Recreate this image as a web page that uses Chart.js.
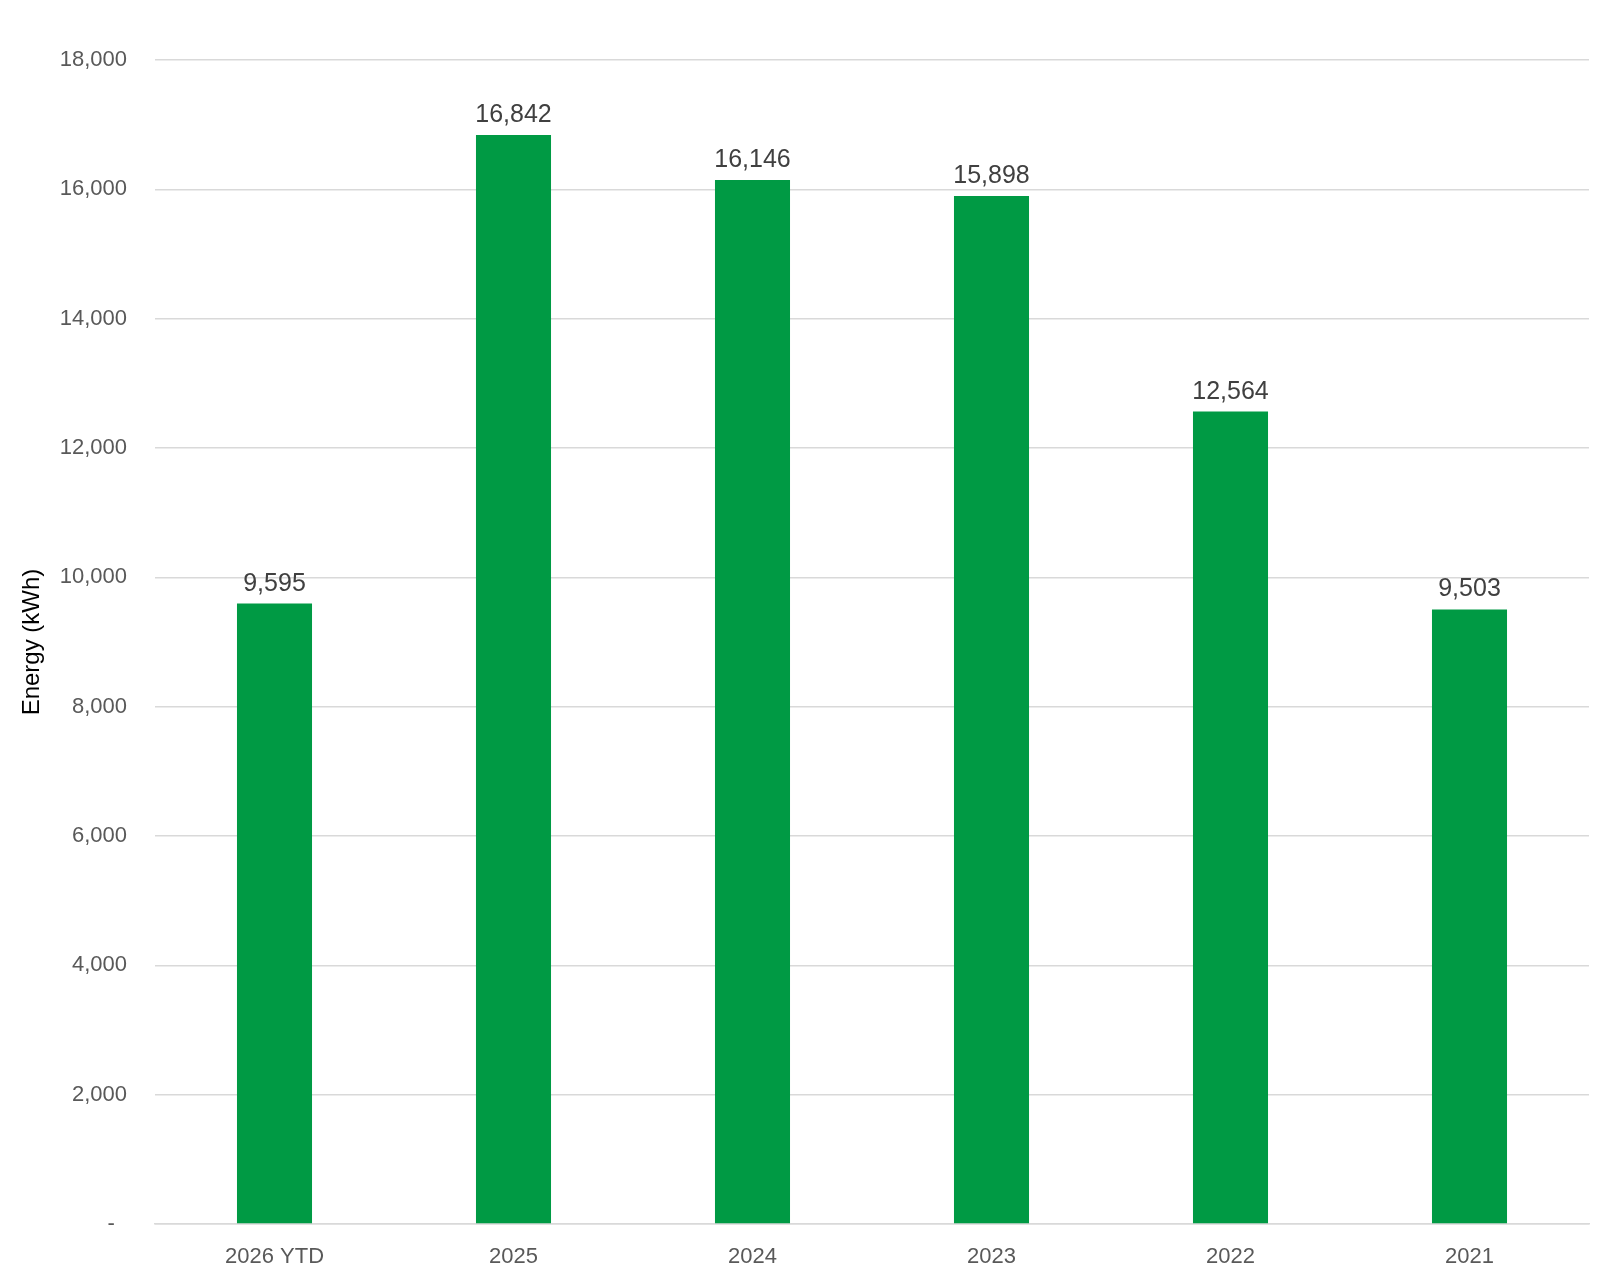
<!DOCTYPE html>
<html>
<head>
<meta charset="utf-8">
<script src="https://cdn.jsdelivr.net/npm/chart.js@4.4.1/dist/chart.umd.min.js"></script>
<style>
  html, body { margin: 0; padding: 0; background: #fff; }
  #wrap { width: 1600px; height: 1276px; }
</style>
</head>
<body>
<div id="wrap"><canvas id="energy-chart" width="1600" height="1276"></canvas></div>
<script>
// data
const years = ["2026 YTD", "2025", "2024", "2023", "2022", "2021"];
const energy = [9595, 16842, 16146, 15898, 12564, 9503];
const yTicks = [0, 2000, 4000, 6000, 8000, 10000, 12000, 14000, 16000, 18000];

const fontFamily = "'Liberation Sans', Arial, sans-serif";

// draws the value above each bar
const barValues = {
    id: 'barValues',
    afterDatasetsDraw(chart) {
        const ctx = chart.ctx;
        const meta = chart.getDatasetMeta(0);
        ctx.save();
        ctx.font = "25px " + fontFamily;
        ctx.fillStyle = "#404040";
        ctx.textAlign = "center";
        ctx.textBaseline = "alphabetic";
        meta.data.forEach((bar, i) => {
            ctx.fillText(energy[i].toLocaleString('en-US'), bar.x, bar.y - 13);
        });
        ctx.restore();
    }
};

const energyChart = new Chart(document.getElementById("energy-chart"), {
    type: 'bar',
    data: {
        labels: years,
        datasets: [{
            data: energy,
            backgroundColor: '#009A44',
            borderWidth: 0,
            barPercentage: 0.314,
            categoryPercentage: 1
        }]
    },
    options: {
        responsive: false,
        animation: false,
        layout: {
            padding: { top: 60, right: 11, bottom: 0, left: 0 }
        },
        plugins: {
            legend: { display: false },
            tooltip: { enabled: false }
        },
        scales: {
            x: {
                grid: { display: false, drawTicks: false },
                border: { color: '#d9d9d9', width: 1.5 },
                ticks: {
                    color: '#595959',
                    font: { family: fontFamily, size: 22 },
                    padding: 20,
                    maxRotation: 0
                },
                afterFit: scale => { scale.height = 52; }
            },
            y: {
                min: 0,
                max: 18000,
                afterBuildTicks: scale => {
                    scale.ticks = yTicks.map(v => ({ value: v }));
                },
                grid: { color: '#d9d9d9', lineWidth: 1.5, drawTicks: false },
                border: { display: false },
                ticks: {
                    color: '#595959',
                    font: { family: fontFamily, size: 22 },
                    padding: 28,
                    callback: v => v === 0 ? '-  ' : v.toLocaleString('en-US')
                },
                title: {
                    display: true,
                    text: 'Energy (kWh)',
                    color: '#000000',
                    font: { family: fontFamily, size: 24 },
                    padding: { top: 18, bottom: 0 }
                },
                afterFit: scale => { scale.width = 155; }
            }
        }
    },
    plugins: [barValues]
});
</script>
</body>
</html>
